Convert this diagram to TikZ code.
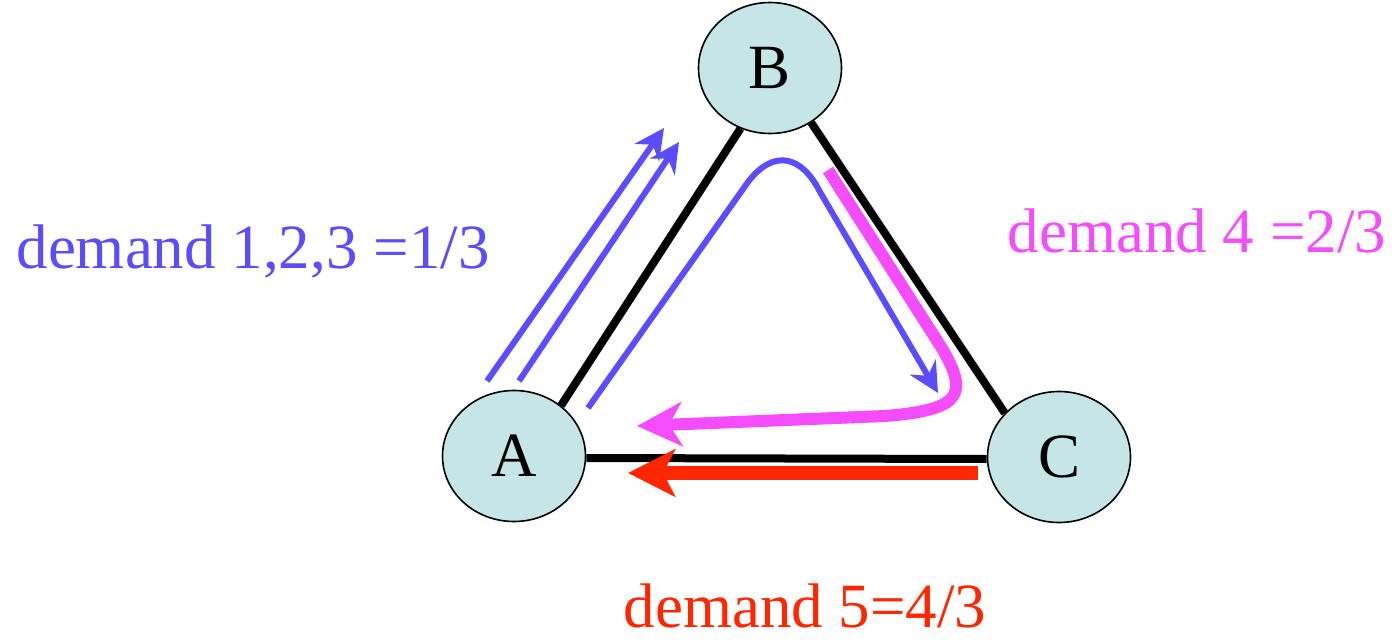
\documentclass[tikz,border=0pt]{standalone}
\usepackage{fontspec}
\setmainfont{Liberation Serif}
\usetikzlibrary{shapes.geometric,arrows.meta}
\definecolor{dblue}{RGB}{92,76,255}
\definecolor{dmag}{RGB}{245,76,255}
\definecolor{dred}{RGB}{255,38,0}
\definecolor{nfill}{RGB}{197,229,231}
\begin{document}
\begin{tikzpicture}[x=1pt,y=-1pt,
  vert/.style={ellipse,draw=black,line width=1.6pt,fill=nfill,minimum width=143pt,minimum height=131pt,inner sep=0pt,font=\fontsize{63}{70}\selectfont},
  link/.style={line width=8pt,black},
  bluearrow/.style={line width=6pt,dblue,-{Stealth[length=30pt,width=30pt,inset=10pt]}},
  magarrow/.style={line width=12pt,dmag,-{Stealth[length=45pt,width=44pt,inset=13pt]}},
  redarrow/.style={line width=14pt,dred,-{Stealth[length=47pt,width=47pt,inset=12pt]}},
  lab/.style={anchor=base,inner sep=0pt,font=\fontsize{63}{70}\selectfont}]
\useasboundingbox (0,0) rectangle (1395,642);
\node[vert] (A) at (514,456) {A};
\node[vert] (B) at (770,68) {B};
\node[vert] (C) at (1059,457) {C};
\draw[link] (A.47) -- (B.244);
\draw[link] (B.307) -- (C.141);
\draw[link] ([yshift=-2pt]A.east) -- ([yshift=-2pt]C.west);
% blue straight arrows A -> B
\coordinate (b1s) at (487,381);
\coordinate (b1e) at (664,128);
\coordinate (b2s) at (519,381);
\coordinate (b2e) at (679,142);
\draw[bluearrow] (b1s) -- (b1e);
\draw[bluearrow] (b2s) -- (b2e);
% blue path A -> B -> C
\coordinate (b3s) at (588,408);
\coordinate (b3e) at (938,393);
\draw[bluearrow] (b3s) -- (748,182) .. controls (774,148) and (802,156) .. (820,192) -- (b3e);
% magenta path B -> C -> A
\coordinate (m1s) at (828,170);
\coordinate (m1e) at (637,426);
\draw[magarrow] (m1s) -- (943,350) .. controls (968,394) and (962,410) .. (885,416) -- (m1e);
% red arrow C -> A
\coordinate (r1s) at (978,473);
\coordinate (r1e) at (628,473);
\draw[redarrow] (r1s) -- (r1e);
% labels
\node[lab,text=dblue] (l1) at (253,268) {demand 1,2,3 =1/3};
\node[lab,text=dmag] (l2) at (1197,252) {demand 4 =2/3};
\node[lab,text=dred] (l3) at (805,627) {demand 5=4/3};
\end{tikzpicture}
\end{document}
